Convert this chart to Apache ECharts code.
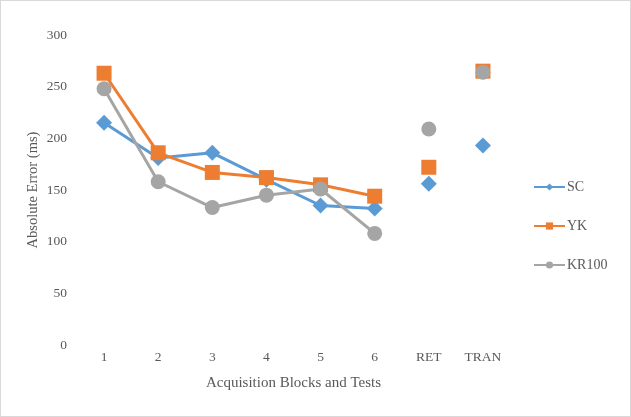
<!DOCTYPE html>
<html>
<head>
<meta charset="utf-8">
<script src="https://cdn.jsdelivr.net/npm/echarts@6/dist/echarts.min.js"></script>
<style>
  html, body { margin: 0; padding: 0; background: #fff; }
  #chart { width: 629px; height: 415px; border: 1px solid #d9d9d9; }
</style>
</head>
<body>
<div id="chart"></div>
<script>
// categories and values
let categories = ['1', '2', '3', '4', '5', '6', 'RET', 'TRAN']
let scBlocks = [215, 181, 186, 160, 135, 132]
let ykBlocks = [263, 186, 167, 162, 155, 144]
let krBlocks = [248, 158, 133, 145, 151, 108]
// RET, TRAN
let scTests = [156, 193]
let ykTests = [172, 265]
let krTests = [209, 264]
let yTicks = { min: 0, max: 300, step: 50 }

let colors = { SC: '#5B9BD5', YK: '#ED7D31', KR100: '#A5A5A5' }
let symbols = { SC: 'diamond', YK: 'rect', KR100: 'circle' }
let sizes = { SC: 16, YK: 15, KR100: 15 }

// line part (blocks 1-6), tests left empty
function blockData(arr) {
    return arr.concat(['-', '-'])
}
// points for RET and TRAN only
function testData(arr) {
    return ['-', '-', '-', '-', '-', '-'].concat(arr)
}

let font = '"Liberation Serif", "Times New Roman", serif'
let series = []
let groups = [['SC', scBlocks, scTests], ['YK', ykBlocks, ykTests], ['KR100', krBlocks, krTests]]
groups.forEach(function (g) {
    let name = g[0]
    series.push({
        name: name,
        type: 'line',
        data: blockData(g[1]),
        symbol: symbols[name],
        symbolSize: sizes[name],
        showAllSymbol: true,
        connectNulls: false,
        lineStyle: { color: colors[name], width: 3 },
        itemStyle: { color: colors[name] },
        emphasis: { disabled: true },
        z: 2
    })
    series.push({
        name: name,
        type: 'scatter',
        data: testData(g[2]),
        symbol: symbols[name],
        symbolSize: sizes[name],
        itemStyle: { color: colors[name], opacity: 1 },
        emphasis: { disabled: true },
        z: 2
    })
})

let myChart = echarts.init(document.getElementById('chart'))
let option = {
    animation: false,
    textStyle: { fontFamily: font },
    grid: { left: 76, right: 120, top: 34, bottom: 71 },
    legend: {
        orient: 'vertical',
        left: 527,
        top: 174,
        itemWidth: 31,
        itemHeight: 9,
        itemGap: 25,
        data: ['SC', 'YK', 'KR100'],
        textStyle: { fontFamily: font, fontSize: 14, color: '#595959', padding: [0, 0, 0, -3] },
        itemStyle: { borderWidth: 0 }
    },
    xAxis: {
        type: 'category',
        data: categories,
        name: 'Acquisition Blocks and Tests',
        nameLocation: 'middle',
        nameGap: 31,
        nameTextStyle: { fontFamily: font, fontSize: 15, color: '#595959' },
        axisLine: { show: false },
        axisTick: { show: false },
        axisLabel: { fontFamily: font, fontSize: 13.5, color: '#595959', margin: 5 }
    },
    yAxis: {
        type: 'value',
        min: yTicks.min,
        max: yTicks.max,
        interval: yTicks.step,
        name: 'Absolute Error (ms)',
        nameLocation: 'middle',
        nameGap: 36,
        nameMoveOverlap: false,
        nameTextStyle: { fontFamily: font, fontSize: 14.5, color: '#595959' },
        axisLine: { show: false },
        axisTick: { show: false },
        splitLine: { show: false },
        axisLabel: { fontFamily: font, fontSize: 13.5, color: '#595959', margin: 10 }
    },
    series: series
}
myChart.setOption(option)
</script>
</body>
</html>
